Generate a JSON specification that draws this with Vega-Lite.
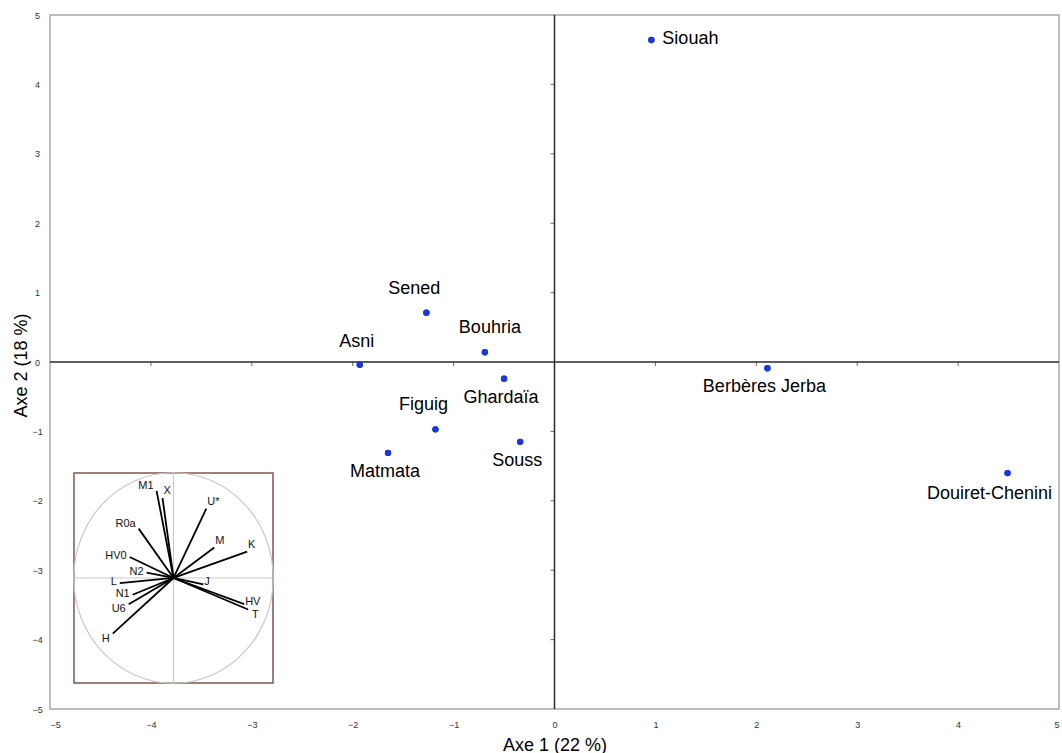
{
  "$schema": "https://vega.github.io/schema/vega-lite/v6.json",
  "width": 1009,
  "height": 694,
  "autosize": {"type": "none"},
  "padding": {"left": 50, "top": 15, "right": 3, "bottom": 44},
  "background": "white",
  "config": {
    "view": {"stroke": "#a8a8a8", "strokeWidth": 1.5},
    "axis": {
      "labelFont": "Liberation Sans",
      "labelFontSize": 9,
      "labelColor": "#333333",
      "titleFont": "Liberation Sans",
      "titleFontSize": 18,
      "titleFontWeight": "normal",
      "titleColor": "#000000",
      "grid": false,
      "ticks": false,
      "tickSize": 0,
      "domain": false
    },
    "text": {"font": "Liberation Sans", "fontSize": 18, "color": "#000000", "baseline": "middle"}
  },
  "datasets": {
    "groups": [
      {"name": "Siouah", "axe1": 0.96, "axe2": 4.64},
      {"name": "Sened", "axe1": -1.27, "axe2": 0.71},
      {"name": "Bouhria", "axe1": -0.69, "axe2": 0.14},
      {"name": "Asni", "axe1": -1.93, "axe2": -0.04},
      {"name": "Ghardaïa", "axe1": -0.5, "axe2": -0.24},
      {"name": "Figuig", "axe1": -1.18, "axe2": -0.97},
      {"name": "Matmata", "axe1": -1.65, "axe2": -1.31},
      {"name": "Souss", "axe1": -0.34, "axe2": -1.15},
      {"name": "Berbères Jerba", "axe1": 2.11, "axe2": -0.09},
      {"name": "Douiret-Chenini", "axe1": 4.49, "axe2": -1.6}
    ],
    "loadings": [
      {"var": "M1", "c1": -0.17, "c2": 0.83},
      {"var": "X", "c1": -0.11, "c2": 0.76},
      {"var": "U*", "c1": 0.33, "c2": 0.66},
      {"var": "R0a", "c1": -0.35, "c2": 0.47},
      {"var": "M", "c1": 0.41, "c2": 0.29},
      {"var": "K", "c1": 0.74, "c2": 0.25},
      {"var": "HV0", "c1": -0.44, "c2": 0.2},
      {"var": "N2", "c1": -0.27, "c2": 0.05},
      {"var": "J", "c1": 0.3, "c2": -0.06},
      {"var": "L", "c1": -0.54, "c2": -0.05},
      {"var": "N1", "c1": -0.41, "c2": -0.16},
      {"var": "U6", "c1": -0.45, "c2": -0.25},
      {"var": "HV", "c1": 0.71, "c2": -0.25},
      {"var": "T", "c1": 0.75, "c2": -0.3},
      {"var": "H", "c1": -0.61, "c2": -0.53}
    ],
    "ticks": [
      {"v": -4, "z": 0}, {"v": -3, "z": 0}, {"v": -2, "z": 0}, {"v": -1, "z": 0},
      {"v": 1, "z": 0}, {"v": 2, "z": 0}, {"v": 3, "z": 0}, {"v": 4, "z": 0}
    ],
    "origin": [{"z": 0, "lo": -1, "hi": 1}]
  },
  "layer": [
    {
      "layer": [
        {
          "data": {"name": "groups"},
          "mark": {"type": "point", "shape": "circle", "filled": true, "size": 40, "color": "#1a35e8", "opacity": 1},
          "encoding": {
            "x": {
              "field": "axe1", "type": "quantitative",
              "scale": {"domain": [-5, 5], "nice": false, "zero": false},
              "axis": {
                "values": [-5, -4, -3, -2, -1, 0, 1, 2, 3, 4, 5],
                "format": "d",
                "title": "Axe 1 (22 %)",
                "labelBaseline": "middle",
                "labelPadding": 15,
                "titleY": 36,
                "titleBaseline": "middle"
              }
            },
            "y": {
              "field": "axe2", "type": "quantitative",
              "scale": {"domain": [-5, 5], "nice": false, "zero": false},
              "axis": {
                "values": [-5, -4, -3, -2, -1, 0, 1, 2, 3, 4, 5],
                "format": "d",
                "title": "Axe 2 (18 %)",
                "labelAlign": "center",
                "labelPadding": 13,
                "titleX": -29,
                "titleY": 350,
                "titleBaseline": "middle"
              }
            }
          }
        },
        {
          "data": {"name": "origin"},
          "mark": {"type": "rule", "color": "#2a2a2a", "strokeWidth": 1.5},
          "encoding": {"y": {"field": "z", "type": "quantitative"}}
        },
        {
          "data": {"name": "origin"},
          "mark": {"type": "rule", "color": "#2a2a2a", "strokeWidth": 1.5},
          "encoding": {"x": {"field": "z", "type": "quantitative"}}
        },
        {
          "data": {"name": "ticks"},
          "mark": {"type": "tick", "orient": "vertical", "size": 4, "thickness": 1, "yOffset": 2, "color": "#2a2a2a"},
          "encoding": {"x": {"field": "v", "type": "quantitative"}, "y": {"field": "z", "type": "quantitative"}}
        },
        {
          "data": {"name": "ticks"},
          "mark": {"type": "tick", "orient": "horizontal", "size": 4, "thickness": 1, "xOffset": -2, "color": "#2a2a2a"},
          "encoding": {"y": {"field": "v", "type": "quantitative"}, "x": {"field": "z", "type": "quantitative"}}
        },
        {
          "data": {"name": "groups"},
          "mark": {"type": "point", "shape": "circle", "filled": true, "size": 40, "color": "#1a35e8", "opacity": 1},
          "encoding": {"x": {"field": "axe1", "type": "quantitative"}, "y": {"field": "axe2", "type": "quantitative"}}
        },
        {
          "data": {"name": "groups"},
          "transform": [{"filter": {"field": "name", "oneOf": ["Sened", "Figuig"]}}],
          "mark": {"type": "text", "align": "center", "dx": -12, "dy": -24},
          "encoding": {"x": {"field": "axe1", "type": "quantitative"}, "y": {"field": "axe2", "type": "quantitative"}, "text": {"field": "name"}}
        },
        {
          "data": {"name": "groups"},
          "transform": [{"filter": {"field": "name", "equal": "Bouhria"}}],
          "mark": {"type": "text", "align": "center", "dx": 5, "dy": -24},
          "encoding": {"x": {"field": "axe1", "type": "quantitative"}, "y": {"field": "axe2", "type": "quantitative"}, "text": {"field": "name"}}
        },
        {
          "data": {"name": "groups"},
          "transform": [{"filter": {"field": "name", "equal": "Asni"}}],
          "mark": {"type": "text", "align": "center", "dx": -3, "dy": -23},
          "encoding": {"x": {"field": "axe1", "type": "quantitative"}, "y": {"field": "axe2", "type": "quantitative"}, "text": {"field": "name"}}
        },
        {
          "data": {"name": "groups"},
          "transform": [{"filter": {"field": "name", "oneOf": ["Ghardaïa", "Matmata", "Souss", "Berbères Jerba"]}}],
          "mark": {"type": "text", "align": "center", "dx": -3, "dy": 19},
          "encoding": {"x": {"field": "axe1", "type": "quantitative"}, "y": {"field": "axe2", "type": "quantitative"}, "text": {"field": "name"}}
        },
        {
          "data": {"name": "groups"},
          "transform": [{"filter": {"field": "name", "equal": "Douiret-Chenini"}}],
          "mark": {"type": "text", "align": "center", "dx": -18, "dy": 21},
          "encoding": {"x": {"field": "axe1", "type": "quantitative"}, "y": {"field": "axe2", "type": "quantitative"}, "text": {"field": "name"}}
        },
        {
          "data": {"name": "groups"},
          "transform": [{"filter": {"field": "name", "equal": "Siouah"}}],
          "mark": {"type": "text", "align": "left", "dx": 11, "dy": -1},
          "encoding": {"x": {"field": "axe1", "type": "quantitative"}, "y": {"field": "axe2", "type": "quantitative"}, "text": {"field": "name"}}
        }
      ]
    },
    {
      "layer": [
        {
          "data": {"name": "origin"},
          "mark": {"type": "rect", "fill": "white", "stroke": "#84564a", "strokeWidth": 1.5},
          "encoding": {
            "x": {"field": "lo", "type": "quantitative", "scale": {"domain": [-1.241, 8.899], "nice": false, "zero": false}, "axis": null},
            "x2": {"field": "hi"},
            "y": {"field": "lo", "type": "quantitative", "scale": {"domain": [-1.248, 5.362], "nice": false, "zero": false}, "axis": null},
            "y2": {"field": "hi"}
          }
        },
        {
          "data": {"name": "origin"},
          "mark": {"type": "rule", "color": "#c8c8c8", "strokeWidth": 1},
          "encoding": {
            "x": {"field": "z", "type": "quantitative", "axis": null},
            "y": {"field": "lo", "type": "quantitative", "axis": null},
            "y2": {"field": "hi"}
          }
        },
        {
          "data": {"name": "origin"},
          "mark": {"type": "rule", "color": "#c8c8c8", "strokeWidth": 1},
          "encoding": {
            "y": {"field": "z", "type": "quantitative", "axis": null},
            "x": {"field": "lo", "type": "quantitative", "axis": null},
            "x2": {"field": "hi"}
          }
        },
        {
          "data": {"name": "origin"},
          "mark": {"type": "point", "shape": "M-1,0A1,1.055,0,1,1,1,0A1,1.055,0,1,1,-1,0Z", "size": 39800, "filled": false, "stroke": "#c8c8c8", "strokeWidth": 1.2, "opacity": 1},
          "encoding": {
            "x": {"field": "z", "type": "quantitative", "axis": null},
            "y": {"field": "z", "type": "quantitative", "axis": null}
          }
        },
        {
          "data": {"name": "loadings"},
          "mark": {"type": "rule", "color": "#000000", "strokeWidth": 1.8},
          "encoding": {
            "x": {"field": "c1", "type": "quantitative", "axis": null},
            "y": {"field": "c2", "type": "quantitative", "axis": null},
            "x2": {"datum": 0},
            "y2": {"datum": 0}
          }
        },
        {
          "data": {"name": "loadings"},
          "transform": [{"filter": {"field": "var", "oneOf": ["M1", "R0a"]}}],
          "mark": {"type": "text", "fontSize": 11, "align": "right", "dx": -3, "dy": -5, "color": "#111111"},
          "encoding": {"x": {"field": "c1", "type": "quantitative", "axis": null}, "y": {"field": "c2", "type": "quantitative", "axis": null}, "text": {"field": "var"}}
        },
        {
          "data": {"name": "loadings"},
          "transform": [{"filter": {"field": "var", "oneOf": ["HV0", "N2", "N1", "L"]}}],
          "mark": {"type": "text", "fontSize": 11, "align": "right", "dx": -3, "dy": -1, "color": "#111111"},
          "encoding": {"x": {"field": "c1", "type": "quantitative", "axis": null}, "y": {"field": "c2", "type": "quantitative", "axis": null}, "text": {"field": "var"}}
        },
        {
          "data": {"name": "loadings"},
          "transform": [{"filter": {"field": "var", "oneOf": ["U6", "H"]}}],
          "mark": {"type": "text", "fontSize": 11, "align": "right", "dx": -3, "dy": 5, "color": "#111111"},
          "encoding": {"x": {"field": "c1", "type": "quantitative", "axis": null}, "y": {"field": "c2", "type": "quantitative", "axis": null}, "text": {"field": "var"}}
        },
        {
          "data": {"name": "loadings"},
          "transform": [{"filter": {"field": "var", "oneOf": ["X", "U*", "M", "K"]}}],
          "mark": {"type": "text", "fontSize": 11, "align": "left", "dx": 1, "dy": -7, "color": "#111111"},
          "encoding": {"x": {"field": "c1", "type": "quantitative", "axis": null}, "y": {"field": "c2", "type": "quantitative", "axis": null}, "text": {"field": "var"}}
        },
        {
          "data": {"name": "loadings"},
          "transform": [{"filter": {"field": "var", "oneOf": ["J", "HV"]}}],
          "mark": {"type": "text", "fontSize": 11, "align": "left", "dx": 1, "dy": -2, "color": "#111111"},
          "encoding": {"x": {"field": "c1", "type": "quantitative", "axis": null}, "y": {"field": "c2", "type": "quantitative", "axis": null}, "text": {"field": "var"}}
        },
        {
          "data": {"name": "loadings"},
          "transform": [{"filter": {"field": "var", "equal": "T"}}],
          "mark": {"type": "text", "fontSize": 11, "align": "left", "dx": 4, "dy": 6, "color": "#111111"},
          "encoding": {"x": {"field": "c1", "type": "quantitative", "axis": null}, "y": {"field": "c2", "type": "quantitative", "axis": null}, "text": {"field": "var"}}
        }
      ]
    }
  ],
  "resolve": {"scale": {"x": "independent", "y": "independent"}}
}
